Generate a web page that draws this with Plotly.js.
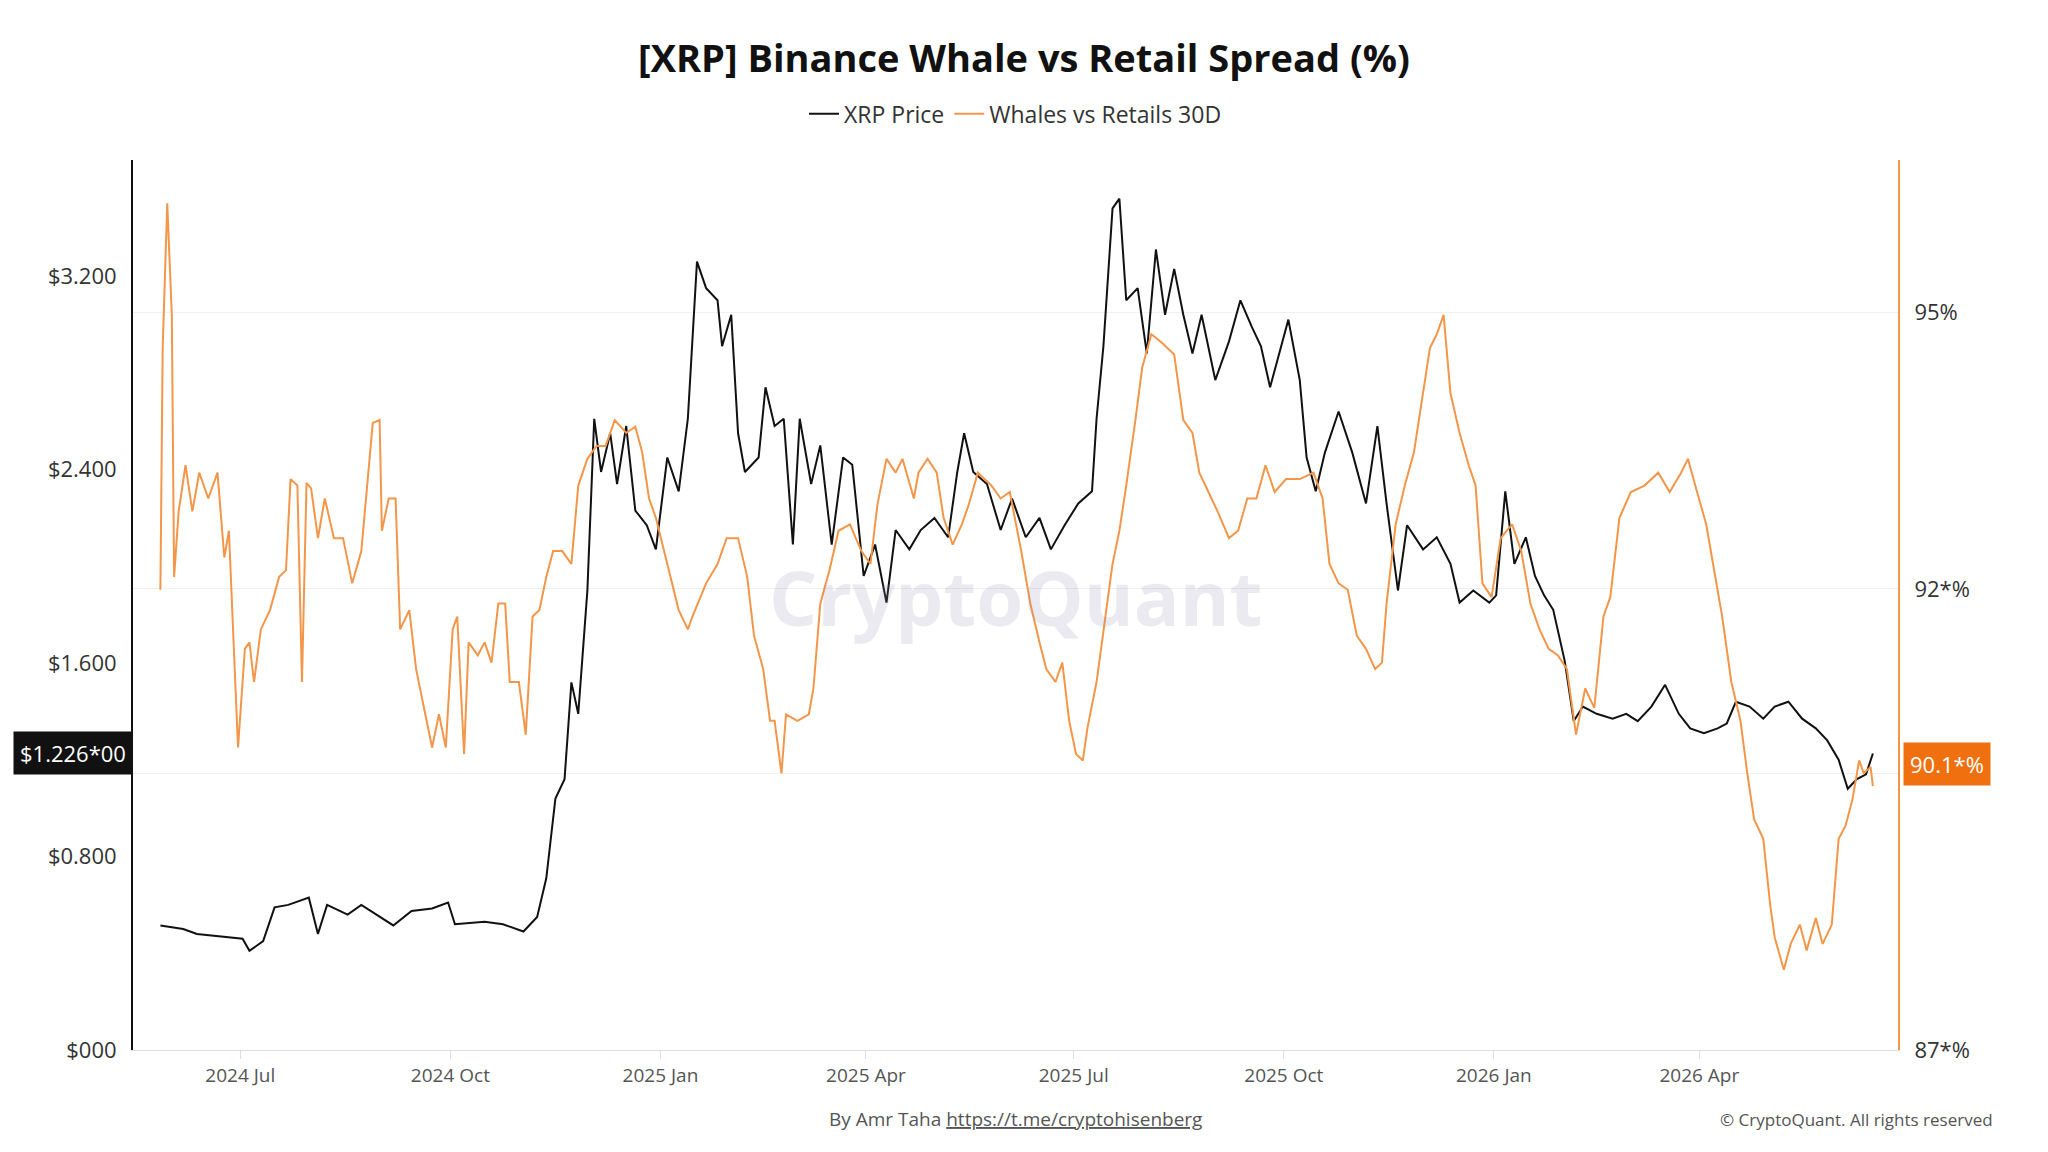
<!DOCTYPE html>
<html>
<head>
<meta charset="utf-8">
<script src="https://cdn.plot.ly/plotly-3.0.1.min.js"></script>
<style>html,body{margin:0;padding:0;background:#fff}#chart{width:2048px;height:1152px}</style>
</head>
<body>
<div id="chart"></div>
<script>
// days counted from 2024-07-01
const priceDays = [-35,-25,-19,-10,1,4,10,15,21,30,34,38,47,53,61,67,75,84,91,94,107,115,124,130,134,138,142,145,148,152,155,158,162,165,169,173,178,182,187,192,196,200,204,209,211,215,218,221,227,230,234,238,242,245,250,254,259,264,268,273,278,283,287,293,298,304,310,314,317,321,327,333,338,344,350,355,361,367,373,375,378,382,385,388,393,397,401,405,409,413,417,421,427,433,438,443,447,451,455,459,464,467,471,475,481,487,493,498,502,507,511,518,524,530,534,540,547,550,554,558,563,567,571,575,580,584,588,594,601,607,612,618,624,630,635,641,647,651,655,661,667,672,678,684,690,695,700,704,708,712,715];
const priceVals = [0.515,0.50,0.48,0.47,0.46,0.41,0.45,0.59,0.60,0.63,0.48,0.60,0.56,0.60,0.55,0.515,0.575,0.585,0.61,0.52,0.53,0.52,0.49,0.55,0.71,1.04,1.12,1.52,1.39,1.90,2.61,2.39,2.55,2.34,2.58,2.23,2.17,2.07,2.45,2.31,2.61,3.26,3.15,3.10,2.91,3.04,2.55,2.39,2.45,2.74,2.58,2.61,2.09,2.61,2.34,2.50,2.09,2.45,2.42,1.96,2.09,1.85,2.15,2.07,2.15,2.20,2.12,2.39,2.55,2.39,2.34,2.15,2.28,2.12,2.20,2.07,2.17,2.26,2.31,2.61,2.91,3.48,3.52,3.10,3.15,2.88,3.31,3.04,3.23,3.04,2.88,3.04,2.77,2.93,3.10,2.99,2.91,2.74,2.88,3.02,2.77,2.45,2.31,2.47,2.64,2.47,2.26,2.58,2.26,1.90,2.17,2.07,2.12,2.01,1.85,1.90,1.85,1.88,2.31,2.01,2.12,1.96,1.88,1.82,1.61,1.36,1.42,1.39,1.37,1.39,1.36,1.42,1.51,1.39,1.33,1.31,1.33,1.35,1.44,1.42,1.37,1.42,1.44,1.37,1.33,1.28,1.20,1.08,1.12,1.14,1.226];

const spreadDays = [-35,-34,-32,-30,-29,-27,-24,-21,-18,-14,-10,-7,-5,-1,2,4,6,9,13,17,20,22,25,27,29,31,34,37,41,45,49,53,58,61,62,65,68,70,74,77,81,84,87,90,93,95,98,100,104,107,110,113,116,118,122,125,128,131,134,137,141,145,148,152,156,160,164,169,173,176,179,182,187,192,196,198,204,209,213,218,222,225,229,232,234,237,239,244,249,251,254,258,262,267,272,276,279,283,287,290,295,297,301,305,308,312,316,319,323,329,333,337,342,346,350,353,357,360,363,366,369,371,375,378,382,385,388,392,395,399,404,409,413,417,420,424,428,433,437,441,445,449,453,458,464,470,474,477,481,485,489,493,497,500,502,506,510,514,518,521,524,527,530,534,538,541,544,548,552,557,561,565,569,573,577,581,585,589,593,597,600,604,609,615,621,626,631,634,638,642,645,649,653,657,660,663,667,670,672,676,679,683,686,690,693,697,700,703,706,709,711,714,715];
const spreadVals = [91.99,94.61,96.18,94.97,92.13,92.84,93.34,92.84,93.26,92.98,93.26,92.34,92.63,90.28,91.35,91.42,90.99,91.56,91.77,92.13,92.20,93.19,93.12,90.99,93.15,93.09,92.55,92.98,92.55,92.55,92.06,92.41,93.80,93.83,92.63,92.98,92.98,91.56,91.77,91.13,90.64,90.28,90.64,90.28,91.56,91.70,90.21,91.42,91.28,91.42,91.20,91.84,91.84,90.99,90.99,90.42,91.70,91.77,92.13,92.41,92.41,92.27,93.12,93.41,93.55,93.55,93.83,93.69,93.76,93.48,92.98,92.77,92.27,91.77,91.56,91.70,92.06,92.27,92.55,92.55,92.13,91.49,91.13,90.57,90.57,90.00,90.64,90.57,90.64,90.92,91.84,92.20,92.63,92.70,92.41,92.27,92.91,93.41,93.26,93.41,92.98,93.26,93.41,93.26,92.77,92.48,92.70,92.91,93.26,93.12,92.98,93.05,92.41,91.84,91.42,91.13,90.99,91.20,90.57,90.21,90.14,90.49,90.99,91.56,92.27,92.63,93.12,93.83,94.40,94.76,94.66,94.54,93.83,93.69,93.26,93.05,92.84,92.55,92.63,92.98,92.98,93.34,93.05,93.19,93.19,93.26,92.98,92.27,92.06,91.99,91.49,91.35,91.13,91.20,91.84,92.70,93.12,93.48,94.12,94.61,94.76,94.97,94.12,93.69,93.34,93.12,92.06,91.91,92.55,92.70,92.41,91.84,91.56,91.35,91.28,91.13,90.42,90.92,90.71,91.70,91.91,92.77,93.05,93.12,93.26,93.05,93.26,93.41,93.05,92.70,92.27,91.70,90.99,90.57,90.00,89.50,89.29,88.58,88.22,87.87,88.15,88.36,88.08,88.43,88.15,88.36,89.29,89.43,89.71,90.14,90.00,90.07,89.86];

const leftTickVals = [0, 0.8, 1.6, 2.4, 3.2];
const leftTickText = ['$000', '$0.800', '$1.600', '$2.400', '$3.200'];
const rightTickVals = [87, 90, 92, 95];
const rightTickText = ['87*%', '90*%', '92*%', '95%'];
const lastPrice = 1.226;
const lastSpread = 90.1;

const base = Date.UTC(2024, 6, 1);
const toDate = d => new Date(base + d * 86400000).toISOString().slice(0, 10);

const data = [{
    x: priceDays.map(toDate),
    y: priceVals,
    name: 'XRP Price',
    mode: 'lines',
    line: {width: 2, color: '#111111'},
    yaxis: 'y'
}, {
    x: spreadDays.map(toDate),
    y: spreadVals,
    name: 'Whales vs Retails 30D',
    mode: 'lines',
    line: {width: 2, color: '#f4964a'},
    yaxis: 'y2'
}];

const layout = {
    width: 2048,
    height: 1152,
    paper_bgcolor: '#ffffff',
    plot_bgcolor: '#ffffff',
    font: {family: 'Open Sans', color: '#333'},
    margin: {l: 133, r: 150, t: 160, b: 102},
    title: {
        text: '<b>[XRP] Binance Whale vs Retail Spread (%)</b>',
        x: 0.5, y: 0.949, xanchor: 'center', yanchor: 'middle',
        font: {size: 38, color: '#111', family: 'Open Sans'}
    },
    showlegend: true,
    legend: {
        orientation: 'h', x: 0.5, xanchor: 'center', y: 1.052, yanchor: 'middle',
        font: {size: 23, color: '#333'}
    },
    xaxis: {
        range: ['2024-05-15', '2026-06-27'],
        tickvals: ['2024-07-01', '2024-10-01', '2025-01-01', '2025-04-01', '2025-07-01', '2025-10-01', '2026-01-01', '2026-04-01'],
        ticktext: ['2024 Jul', '2024 Oct', '2025 Jan', '2025 Apr', '2025 Jul', '2025 Oct', '2026 Jan', '2026 Apr'],
        tickfont: {size: 19, color: '#555'},
        showgrid: false,
        showline: true,
        linecolor: '#dddddd',
        ticks: 'outside',
        tickcolor: '#dddddd',
        ticklen: 8,
        zeroline: false
    },
    yaxis: {
        range: [0, 3.68],
        tickvals: leftTickVals,
        ticktext: leftTickText,
        tickfont: {size: 22, color: '#333'},
        showgrid: false,
        showline: true,
        linecolor: '#111',
        linewidth: 2,
        zeroline: false,
        ticklen: 0,
        ticklabelstandoff: 10
    },
    yaxis2: {
        overlaying: 'y',
        side: 'right',
        range: [87, 96.65],
        tickvals: rightTickVals,
        ticktext: rightTickText,
        tickfont: {size: 22, color: '#333'},
        showgrid: true,
        gridcolor: '#f0f0f0',
        showline: true,
        linecolor: '#f4964a',
        linewidth: 2,
        zeroline: false,
        ticklabelstandoff: 10
    },
    annotations: [{
        text: '<b>CryptoQuant</b>',
        xref: 'paper', yref: 'paper', x: 0.5, y: 0.51,
        showarrow: false,
        font: {size: 76, color: 'rgba(140,140,170,0.18)', family: 'Open Sans'}
    }, {
        text: 'By Amr Taha <u>https://t.me/cryptohisenberg</u>',
        xref: 'paper', yref: 'paper', x: 0.5, y: -0.078, yanchor: 'middle',
        showarrow: false,
        font: {size: 19, color: '#555'}
    }, {
        text: '© CryptoQuant. All rights reserved',
        xref: 'paper', yref: 'paper', x: 1.055, xanchor: 'right', y: -0.078, yanchor: 'middle',
        showarrow: false,
        font: {size: 17, color: '#555'}
    }, {
        text: '$' + lastPrice.toFixed(3) + '*00',
        xref: 'paper', yref: 'y', x: 0, xanchor: 'right', y: lastPrice,
        showarrow: false,
        bgcolor: '#111', borderpad: 6,
        font: {size: 22, color: '#fff'}
    }, {
        text: lastSpread.toFixed(1) + '*%',
        xref: 'paper', yref: 'y2', x: 1.003, xanchor: 'left', y: lastSpread,
        showarrow: false,
        bgcolor: '#f07010', borderpad: 6,
        font: {size: 22, color: '#fff'}
    }]
};

Plotly.newPlot('chart', data, layout, {displayModeBar: false});
</script>
</body>
</html>
